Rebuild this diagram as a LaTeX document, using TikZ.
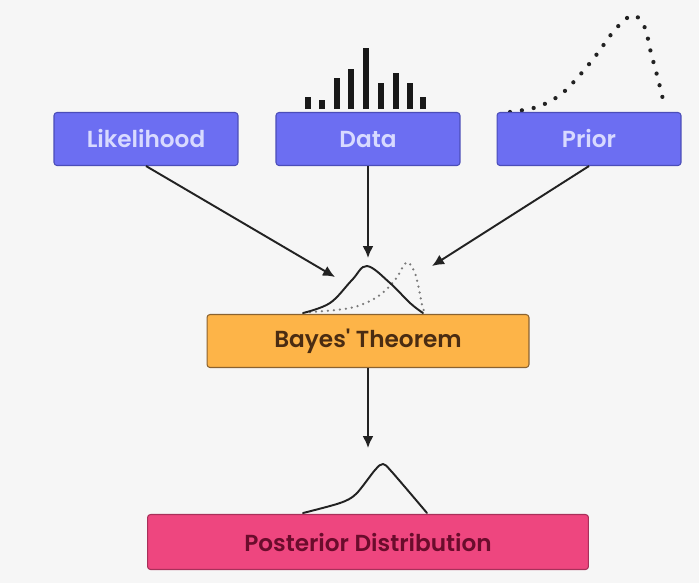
\documentclass[tikz,border=0pt]{standalone}
\usepackage{fontspec}
\setmainfont{Poppins}
\newfontfamily\boxfont{Poppins SemiBold}
\usetikzlibrary{arrows.meta}
\definecolor{pagebg}{HTML}{F6F6F6}
\definecolor{inputfill}{HTML}{6C6EF2}
\definecolor{inputedge}{HTML}{4B4DB8}
\definecolor{inputtext}{HTML}{D8DAFF}
\definecolor{bayesfill}{HTML}{FDB448}
\definecolor{bayesedge}{HTML}{8A6230}
\definecolor{bayestext}{HTML}{4A2C12}
\definecolor{postfill}{HTML}{EE467F}
\definecolor{postedge}{HTML}{A8305A}
\definecolor{posttext}{HTML}{6A0C2C}
\definecolor{inkline}{HTML}{222222}

\begin{document}
\begin{tikzpicture}[
  x=0.02cm,
  y=-0.02cm,
  line join=round,
  box/.style={rectangle,rounded corners=0.06cm,line width=0.6pt,
    inner sep=0pt,font=\boxfont\fontsize{13.2}{15}\selectfont},
  inputbox/.style={box,fill=inputfill,draw=inputedge,text=inputtext,
    minimum width=3.68cm,minimum height=1.06cm},
  bayesbox/.style={box,fill=bayesfill,draw=bayesedge,text=bayestext,
    minimum width=6.44cm,minimum height=1.06cm},
  postbox/.style={box,fill=postfill,draw=postedge,text=posttext,
    minimum width=8.82cm,minimum height=1.1cm},
  flow/.style={draw=inkline,line width=1.1pt,-{Latex[length=2.4mm,width=2.2mm]}},
  bar/.style={draw=black!90,line width=0.12cm},
  curve/.style={draw=inkline,line width=1.1pt,line cap=round},
  bigdots/.style={draw=inkline,line width=0.085cm,line cap=round,
    dash pattern=on 0pt off 0.24cm},
  smalldots/.style={draw=inkline!60,line width=0.05cm,line cap=round,
    dash pattern=on 0pt off 0.12cm}
]
  \useasboundingbox[fill=pagebg] (0,0) rectangle (699,583);

  % Histogram over the data box.
  \foreach \xb/\yt in {308/97,322/100,337/78,351/69,366/48,381/83,396/73,410/83,423/97} {
    \draw[bar] (\xb,109) -- (\xb,\yt);
  }

  % Prior shape, dotted.
  \draw[bigdots] plot[smooth,tension=0.6] coordinates {(510,112) (537,107) (560,95)
    (579,76) (597,54) (613,32) (627,18) (636,16) (645,28) (651,53) (658,79) (665,108)};

  % Input boxes.
  \node[inputbox] (likelihood) at (146,139) {Likelihood};
  \node[inputbox] (data) at (368,139) {Data};
  \node[inputbox] (prior) at (589,139) {Prior};

  % Combined shapes sitting on Bayes' box.
  \draw[smalldots] plot[smooth,tension=0.6] coordinates {(310,312) (350,308) (377,297)
    (395,280) (404,265) (409,263) (416,276) (422,305) (425,313)};
  \draw[curve] plot[smooth,tension=0.6] coordinates {(303,313) (330,303) (352,280)
    (367,266) (390,283) (410,303) (423,313)};

  \node[bayesbox] (bayes) at (368,341) {Bayes' Theorem};

  % Posterior shape.
  \draw[curve] plot[smooth,tension=0.5] coordinates {(303,513) (340,503) (356,494)
    (375,470) (383,464) (392,472) (427,513)};

  \node[postbox] (posterior) at (368,542) {Posterior Distribution};

  % Arrow ends.
  \coordinate (likeend) at (335,277);
  \coordinate (dataend) at (368,258);
  \coordinate (priorend) at (432,266);
  \coordinate (postend) at (368,448);

  \draw[flow] (likelihood.south) -- (likeend);
  \draw[flow] (data.south) -- (dataend);
  \draw[flow] (prior.south) -- (priorend);
  \draw[flow] (bayes.south) -- (postend);
\end{tikzpicture}
\end{document}
